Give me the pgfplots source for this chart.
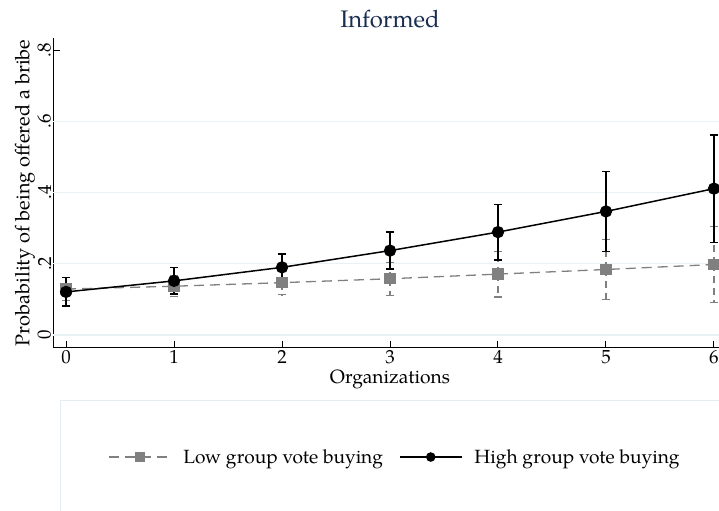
\documentclass[border=0pt]{standalone}
\usepackage{pgfplots}
\pgfplotsset{compat=1.18}
\usepackage{pgfplotstable}
\usepackage{fontspec}
\setmainfont{TeX Gyre Pagella}
\definecolor{titlenavy}{RGB}{26,46,82}
\definecolor{lowgray}{RGB}{128,128,128}
\definecolor{gridblue}{RGB}{232,241,243}
\definecolor{framegray}{RGB}{228,237,240}

% predicted probabilities with 95% confidence half-widths
\pgfplotstableread{
x  y     e
0  0.129 0.033
1  0.137 0.029
2  0.147 0.034
3  0.158 0.046
4  0.171 0.064
5  0.184 0.085
6  0.198 0.107
}\lowtab
\pgfplotstableread{
x  y     e
0  0.121 0.040
1  0.152 0.037
2  0.190 0.038
3  0.237 0.052
4  0.289 0.078
5  0.347 0.112
6  0.411 0.151
}\hightab

\begin{document}
\begin{tikzpicture}[x=1bp,y=1bp]
\clip (0,0) rectangle (719,511);
\fill[white] (0,0) rectangle (719,511);
% legend frame
\draw[framegray, line width=1bp] (60.5,110) rectangle (780,-30);
\node[titlenavy, font=\fontsize{24}{28}\selectfont, anchor=base] at (390,483) {Informed};
\begin{axis}[
  at={(53.3bp,163.3bp)}, anchor=south west,
  scale only axis, width=673.4bp, height=309.7bp,
  xmin=-0.118, xmax=6.118, ymin=-0.0356, ymax=0.834,
  axis x line*=bottom, axis y line*=left,
  axis line style={-, line width=1.2bp, black},
  tick align=inside, major tick length=7bp,
  tick style={black, line width=1bp},
  xtick={0,...,6},
  ytick={0,0.2,0.4,0.6,0.8},
  yticklabels={0,.2,.4,.6,.8},
  yticklabel style={rotate=90, anchor=south, inner sep=2bp},
  xticklabel style={inner sep=2.5bp},
  extra y ticks={0,0.2,0.4,0.6}, extra y tick labels={},
  extra y tick style={grid=major, major tick length=0pt},
  major grid style={gridblue, line width=1.3bp},
  /pgf/number format/assume math mode=true,
  ticklabel style={font=\fontsize{19}{22}\selectfont},
  xlabel style={font=\fontsize{19.3}{22}\selectfont, inner sep=3bp},
  ylabel style={font=\fontsize{20}{23}\selectfont, inner sep=0.5bp},
  xlabel={Organizations},
  ylabel={Probability of being offered a bribe},
  legend style={at={(0.0768,-0.353)}, anchor=west, draw=none, fill=none,
    font=\fontsize{19.2}{22}\selectfont, legend columns=2,
    /tikz/every odd column/.append style={column sep=10bp},
    /tikz/every even column/.append style={column sep=14bp}},
  legend image code/.code={\draw[mark repeat=2,mark phase=2,#1,mark size=4bp]
    plot coordinates {(0bp,0bp)(31bp,0bp)(62bp,0bp)};},
]
\addplot[lowgray, dash pattern=on 10bp off 6bp, line width=1.3bp,
  mark=square*, mark size=5bp, mark options={solid, fill=lowgray},
  error bars/.cd, y dir=both, y explicit,
  error bar style={lowgray, line width=1.2bp, dash pattern=on 7bp off 5bp},
  error mark options={lowgray, rotate=90, mark size=4bp, solid, line width=1.2bp}]
  table[x=x, y=y, y error=e] {\lowtab};
\addlegendentry{Low group vote buying}
\addplot[black, line width=1.5bp,
  mark=*, mark size=5.4bp, mark options={solid, fill=black},
  error bars/.cd, y dir=both, y explicit,
  error bar style={black, line width=1.4bp, solid},
  error mark options={black, rotate=90, mark size=4bp, line width=1.4bp}]
  table[x=x, y=y, y error=e] {\hightab};
\addlegendentry{High group vote buying}
\end{axis}
\end{tikzpicture}
\end{document}
